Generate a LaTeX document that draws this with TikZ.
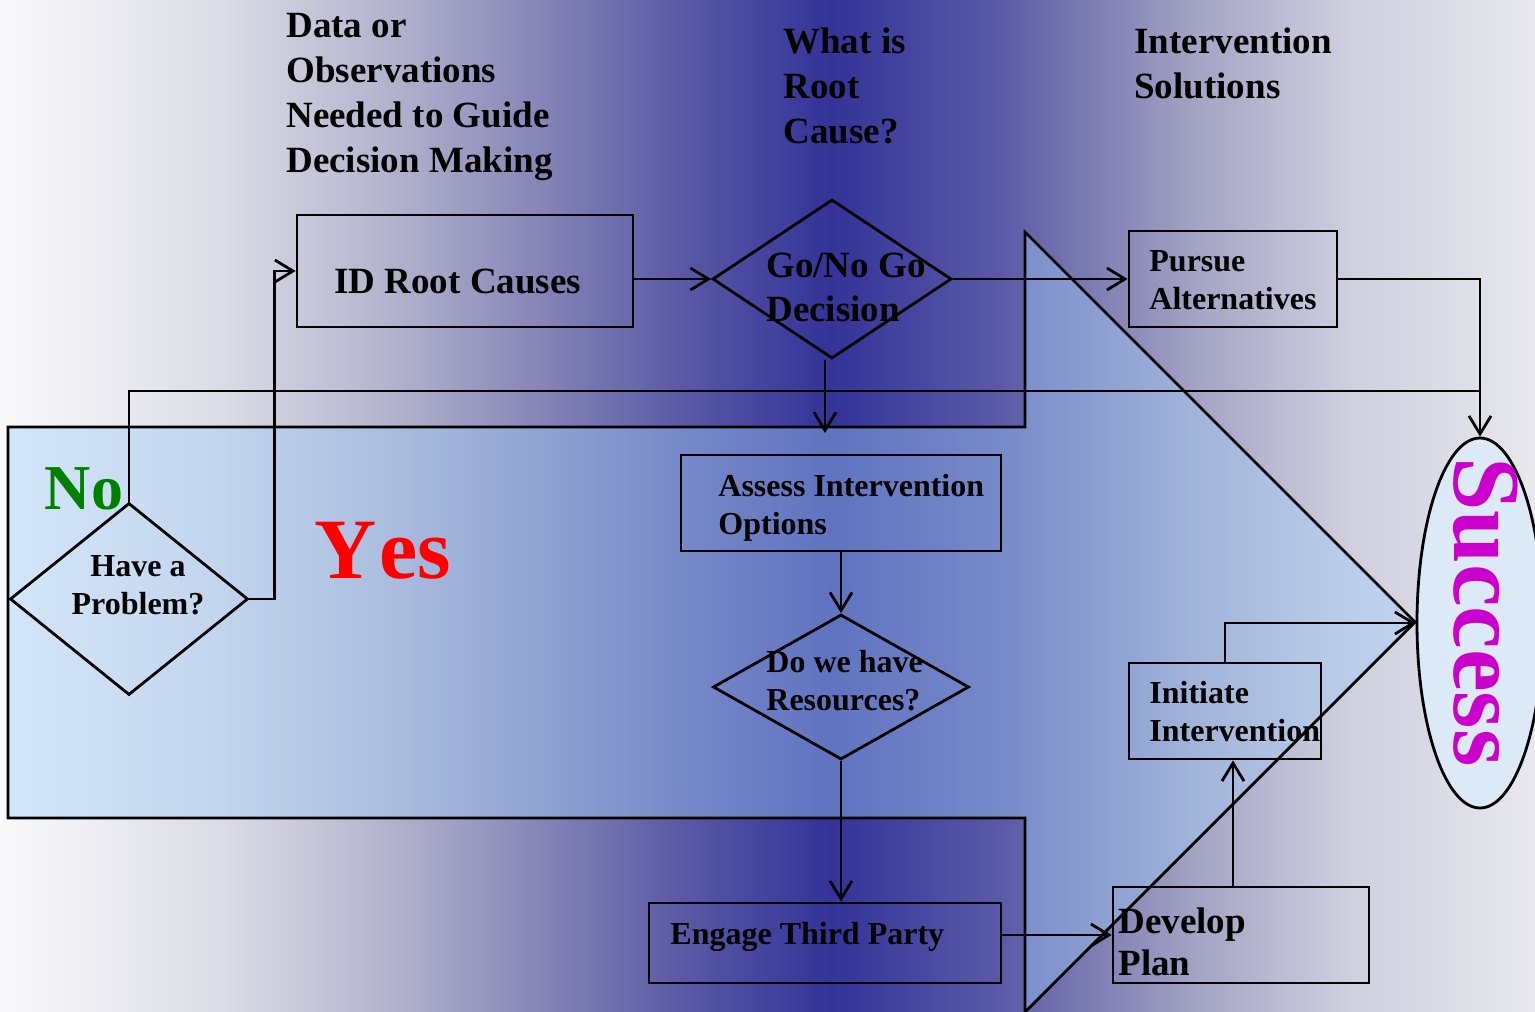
\documentclass[tikz,border=0pt]{standalone}
\usepackage{fontspec}
\setmainfont{Liberation Serif}
\usetikzlibrary{shapes.geometric,arrows.meta}
\definecolor{bgA}{HTML}{F9F9FB}
\definecolor{bgB}{HTML}{DCDCE6}
\definecolor{bgC}{HTML}{B0B0CC}
\definecolor{bgD}{HTML}{8282B6}
\definecolor{bgE}{HTML}{5A5AA6}
\definecolor{bgF}{HTML}{333399}
\definecolor{bgG}{HTML}{5A5AA8}
\definecolor{bgH}{HTML}{8080B5}
\definecolor{bgI}{HTML}{A5A5C5}
\definecolor{bgJ}{HTML}{CFCFDF}
\definecolor{bgK}{HTML}{E8E8EE}
\definecolor{arrowblue}{RGB}{160,205,248}
\definecolor{ovalblue}{HTML}{DCE9F7}
\definecolor{nogreen}{HTML}{008000}
\definecolor{successpink}{HTML}{CC00CC}
\pgfdeclarehorizontalshading{backshade}{100bp}{color(0bp)=(bgA); color(25bp)=(bgA); color(32.17bp)=(bgB); color(38.03bp)=(bgC); color(42.92bp)=(bgD); color(47.15bp)=(bgE); color(52.04bp)=(bgF); color(57.57bp)=(bgG); color(60.83bp)=(bgH); color(64.09bp)=(bgI); color(68.97bp)=(bgJ); color(75bp)=(bgK); color(100bp)=(bgK)}
\begin{document}
\begin{tikzpicture}[x=1pt,y=-1pt,line width=2.8pt,>={Straight Barb[length=18pt,width=22pt]}]
	\tikzstyle{box} = [rectangle,draw,inner sep=0pt]
	\tikzstyle{choice} = [diamond,draw,inner sep=0pt]
	\tikzstyle{big} = [inner sep=0pt,font=\bfseries\fontsize{37}{45}\selectfont,align=left,anchor=west]
	\tikzstyle{small} = [inner sep=0pt,font=\bfseries\fontsize{32}{38}\selectfont,align=left,anchor=west]
	\useasboundingbox (0,0) rectangle (1535,1012);
	\clip (0,0) rectangle (1535,1012);
	\shade[shading=backshade] (0,0) rectangle (1535,1012);
	\draw[fill=arrowblue,fill opacity=0.42] (8,427) -- (1025,427) -- (1025,232) -- (1415,622) -- (1025,1012) -- (1025,818) -- (8,818) -- cycle;
	\node[box,minimum width=336pt,minimum height=112pt](idroot)at(465,271){};
	\node[box,minimum width=208pt,minimum height=96pt](pursue)at(1233,279){};
	\node[box,minimum width=320pt,minimum height=96pt](assess)at(841,503){};
	\node[box,minimum width=352pt,minimum height=80pt](engage)at(825,943){};
	\node[box,minimum width=256pt,minimum height=96pt](develop)at(1241,935){};
	\node[box,minimum width=192pt,minimum height=96pt](initiate)at(1225,711){};
	\node[choice,minimum width=239pt,minimum height=159pt](gonogo)at(832,279){};
	\node[choice,minimum width=256pt,minimum height=145pt](resources)at(841,687){};
	\node[choice,minimum width=238pt,minimum height=192pt](problem)at(129,599){};
	\node[ellipse,draw,fill=ovalblue,inner sep=0pt,minimum width=126pt,minimum height=370pt](success)at(1480,623){};
	\coordinate (nojoin) at (1480,391);
	\coordinate (assesstop) at (825,433);
	\node[big](datatxt)at(285,97){Data or\\Observations\\Needed to Guide\\Decision Making};
	\node[big](roottxt)at(782,86){What is\\Root\\Cause?};
	\node[big](solntxt)at(1133,63){Intervention\\Solutions};
	\node[big](idroottxt)at(333,281){ID Root Causes};
	\node[big,font=\bfseries\fontsize{37}{44}\selectfont](gonogotxt)at(765,287){Go/No Go\\Decision};
	\node[big,font=\bfseries\fontsize{37}{42}\selectfont](developtxt)at(1117,942){Develop\\Plan};
	\node[small](pursuetxt)at(1148,280){Pursue\\Alternatives};
	\node[small](assesstxt)at(717,508){Assess Intervention\\Options};
	\node[small](resourcestxt)at(765,681){Do we have\\Resources?};
	\node[small,align=center,anchor=center](problemtxt)at(138,585){Have a\\Problem?};
	\node[small](engagetxt)at(669,937){Engage Third Party};
	\node[small](initiatetxt)at(1148,712){Initiate\\Intervention};
	\node[inner sep=0pt,text=nogreen,font=\bfseries\fontsize{64}{64}\selectfont](notxt)at(84,489){No};
	\node[inner sep=0pt,text=red,font=\bfseries\fontsize{86}{86}\selectfont](yestxt)at(383,551){Y\kern3pt es};
	\node[inner sep=0pt,rotate=-90,text=successpink,font=\bfseries\fontsize{96}{96}\selectfont](successtxt)at(1486,612){Success};
	\path[->] (idroot.east|-gonogo.west) edge (gonogo.west)
	(gonogo.east) edge (pursue.west)
	(assess.south) edge (resources.north)
	(engage.east|-develop.west) edge (develop.west);
	\draw[->] (pursue.east) -| (success.north);
	\draw (problem.north) |- (nojoin);
	\draw[->] (problem.east) -- ++(25,0) |- (idroot.west);
	\draw[->] (gonogo.south-|assesstop) -- (assesstop);
	\draw[->] (resources.south) -- (resources.south|-engage.north);
	\draw[->] ([xshift=-8pt]develop.north) -- ([xshift=8pt]initiate.south);
	\draw[->] (initiate.north) |- (success.west);
\end{tikzpicture}
\end{document}
